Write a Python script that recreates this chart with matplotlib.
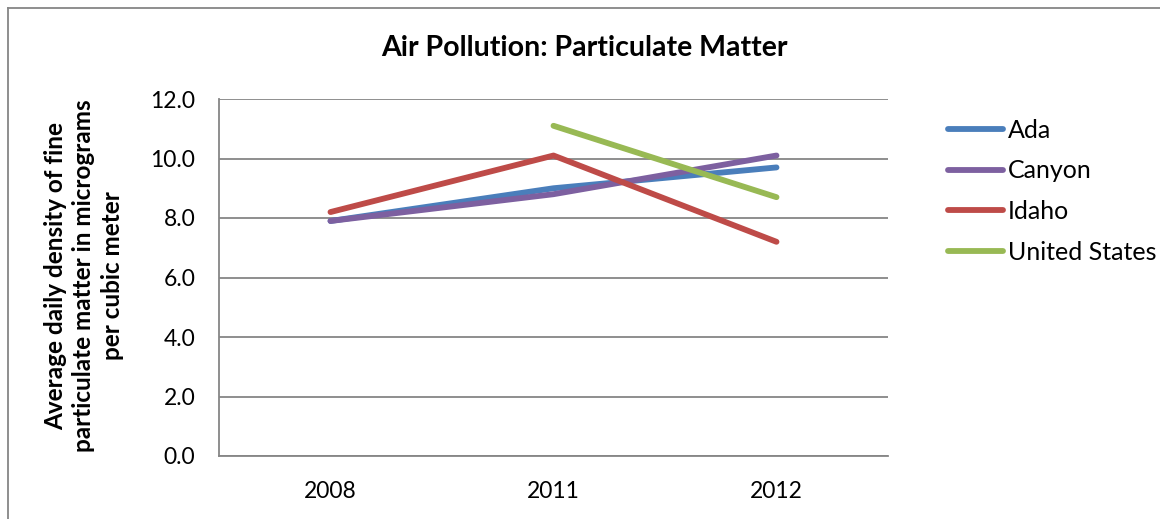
import matplotlib
matplotlib.use("Agg")
import matplotlib.pyplot as plt
import numpy as np
from matplotlib.lines import Line2D

years = ["2008", "2011", "2012"]
ada = [7.9, 9.0, 9.7]
canyon = [7.9, 8.8, 10.1]
idaho = [8.2, 10.1, 7.2]
united_states = [np.nan, 11.1, 8.7]
series_names = ["Ada", "Canyon", "Idaho", "United States"]
series_colors = ["#4A7EBB", "#7D60A0", "#BE4B48", "#98B954"]
yticks = [0, 2, 4, 6, 8, 10, 12]

plt.rcParams['font.family'] = ['Lato', 'DejaVu Sans']

W, H = 1160, 519
fig = plt.figure(figsize=(W / 100, H / 100), dpi=100)
ax = fig.add_axes([219 / W, 1 - 456 / H, (888 - 219) / W, (456 - 99) / H])

x = np.arange(len(years))
for vals, name, col in zip([ada, canyon, idaho, united_states], series_names, series_colors):
    ax.plot(x, vals, color=col, lw=4.2, solid_capstyle='round', solid_joinstyle='round', label=name, zorder=3)

ax.set_xlim(-0.5, len(years) - 0.5)
ax.set_ylim(0, 12)
ax.set_yticks(yticks)
ax.set_yticklabels([f"{v:.1f}" for v in yticks], fontsize=16.5)
ax.set_xticks(x)
ax.set_xticklabels(years, fontsize=16.5)
ax.tick_params(axis='both', length=0)
ax.tick_params(axis='x', pad=18)
ax.tick_params(axis='y', pad=17)
ax.grid(axis='y', color='#868686', lw=1.3)
ax.set_axisbelow(True)
for s in ['top', 'right']:
    ax.spines[s].set_visible(False)
for s in ['left', 'bottom']:
    ax.spines[s].set_color('#868686')
    ax.spines[s].set_linewidth(1.3)

fig.text(584 / W, 1 - 48 / H, "Air Pollution: Particulate Matter", ha='center', va='center',
         fontsize=20.5, fontweight='bold')
fig.text(84 / W, 1 - 276 / H,
         "Average daily density of fine\nparticulate matter in micrograms\nper cubic meter",
         ha='center', va='center', rotation=90, fontsize=17.5, fontweight='bold', linespacing=1.3)

leg = ax.legend(loc='upper left', bbox_to_anchor=(948 / W, 1 - 119 / H), bbox_transform=fig.transFigure,
                frameon=False, fontsize=18, handlelength=2.2, handletextpad=0.2, labelspacing=0.7,
                borderaxespad=0, borderpad=0)

# outer chart frame
fig.add_artist(Line2D([8 / W, 8 / W], [0, 1 - 8 / H], transform=fig.transFigure, color='#868686', lw=1.3))
fig.add_artist(Line2D([8 / W, 1], [1 - 8 / H, 1 - 8 / H], transform=fig.transFigure, color='#868686', lw=1.3))

fig.savefig("out.png", dpi=100)
